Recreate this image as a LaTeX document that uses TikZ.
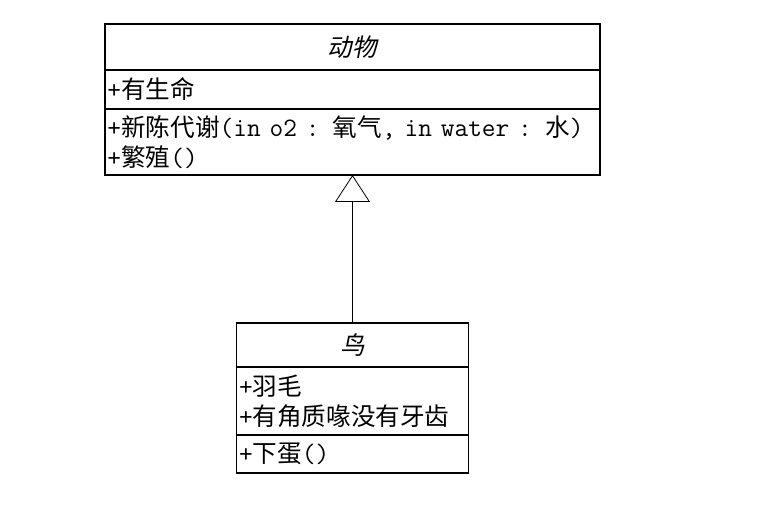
\documentclass[tikz,border=0pt]{standalone}
\usepackage{fontspec}
\newfontfamily\zh[Scale=0.925]{Noto Sans CJK SC}
\newfontfamily\zhit[Scale=0.925,FakeSlant=0.2]{Noto Sans CJK SC}
\usetikzlibrary{positioning,arrows.meta}
\begin{document}
\begin{tikzpicture}[x=1bp,y=1bp]
				\tikzstyle{class part}=[draw,line width=1.3bp,inner xsep=2.5bp,inner ysep=0pt,outer sep=0pt,align=left,font=\ttfamily\fontsize{26.6bp}{30bp}\selectfont]
				\tikzset{
					class name/.style={class part,align=center,anchor=north},
					inherit/.style={-{Triangle[open,length=27bp,width=35bp]},line width=0.8bp}
				}
				\useasboundingbox (0,0) rectangle (768,511);
				% animal
				\node(a)[class name,text width=490bp,minimum height=46bp] at (352.5,487) {\zhit 动物};
				\node(a-1)[class part,text width=490bp,minimum height=39bp,below=0pt of a]{+{\zh 有生命}};
				\node(a-2)[class part,text width=490bp,minimum height=66bp,below=0pt of a-1]{+{\zh 新陈代谢}(in o2 : {\zh 氧气}, in water : {\zh 水})\\+{\zh 繁殖}()};
				% bird
				\node(b)[class name,text width=227bp,minimum height=44bp] at (352.5,188) {\zhit 鸟};
				\node(b-1)[class part,text width=227bp,minimum height=68bp,below=0pt of b]{+{\zh 羽毛}\\+{\zh 有角质喙没有牙齿}};
				\node(b-2)[class part,text width=227bp,minimum height=38bp,below=0pt of b-1]{+{\zh 下蛋}()};
				\draw[inherit](b.north)to(a-2.south);
			\end{tikzpicture}
\end{document}
